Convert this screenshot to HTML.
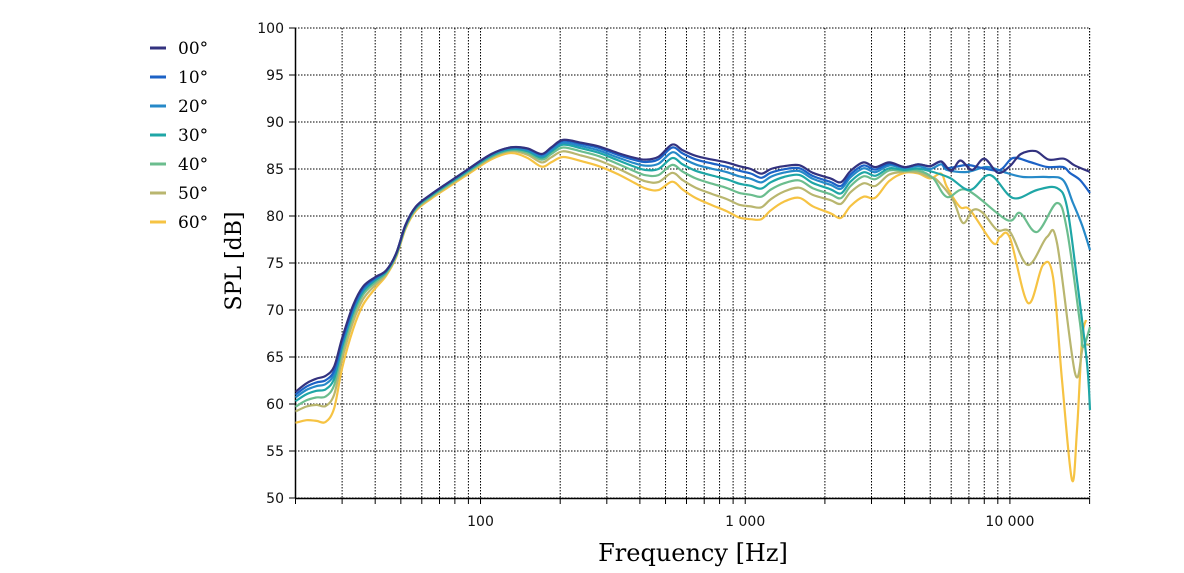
<!DOCTYPE html>
<html><head><meta charset="utf-8"><style>
html,body{margin:0;padding:0;background:#fff;}
svg{display:block;}
.tk{font-family:"DejaVu Sans","Liberation Sans",sans-serif;font-size:14px;fill:#111;}
.ser{font-family:"DejaVu Serif","Liberation Serif",serif;}
.lg{font-family:"DejaVu Serif","Liberation Serif",serif;}
</style></head><body>
<svg id="s" width="1184" height="573" xmlns="http://www.w3.org/2000/svg"></svg>
<script>
const S=document.getElementById('s');
const X0=295.5,DEC=264.7,YB=498,PDB=9.4;
const fx=f=>X0+DEC*Math.log10(f/20), dy=d=>YB-PDB*(d-50);
let h='';
for(let dec=10;dec<=10000;dec*=10)for(let m=1;m<=9;m++){const f=dec*m;if(f<20||f>20000)continue;const x=fx(f);
 h+=`<line x1="${x}" y1="28" x2="${x}" y2="498" stroke="#000" stroke-width="1" stroke-dasharray="1.5,1.5"/>`;
 h+=`<line x1="${x}" y1="498" x2="${x}" y2="504" stroke="#000"/>`;}
h+=`<line x1="${fx(20000)}" y1="28" x2="${fx(20000)}" y2="498" stroke="#000" stroke-dasharray="1.5,1.5"/>`;
for(let d=50;d<=100;d+=5){const y=dy(d);
 h+=`<line x1="295" y1="${y}" x2="1089" y2="${y}" stroke="#000" stroke-dasharray="1.5,1.5"/>`;
 h+=`<line x1="289" y1="${y}" x2="295" y2="${y}" stroke="#000"/>`;
 h+=`<text class="tk" x="284" y="${y+5}" text-anchor="end">${d}</text>`;}
h+=`<line x1="295.5" y1="28" x2="295.5" y2="498.5" stroke="#000" stroke-width="1.5"/>`;
h+=`<line x1="295" y1="498.5" x2="1089" y2="498.5" stroke="#000" stroke-width="1.5"/>`;
[[100,'100'],[1000,'1 000'],[10000,'10 000']].forEach(([f,t])=>h+=`<text class="tk" x="${fx(f)}" y="526" text-anchor="middle">${t}</text>`);
h+=`<text class="ser" x="693" y="561" font-size="24" text-anchor="middle">Frequency [Hz]</text>`;
h+=`<text class="ser" transform="translate(241,261) rotate(-90)" font-size="22" text-anchor="middle">SPL [dB]</text>`;
const cols=['#33327f','#1c62c6','#2689c8','#1fa6a6','#6bbd8e','#b9b66f','#f6c343'];
cols.forEach((c,i)=>{const y=48+i*29;h+=`<line x1="150" y1="${y}" x2="166" y2="${y}" stroke="${c}" stroke-width="3"/>`;
 h+=`<text class="lg" x="178" y="${y+6}" font-size="17">${i}0°</text>`;});
const base=[[20,61.3],[22,62.2],[24,62.7],[26,63],[28,64],[30,67],[33,70.5],[36,72.5],[40,73.5],[44,74.2],[48,76],[52,79],[57,81],[65,82.3],[75,83.5],[90,85],[110,86.6],[130,87.3],[150,87.2],[170,86.6],[185,87.3],[205,88.1],[240,87.8],[280,87.4],[330,86.7],[380,86.2],[420,86],[470,86.3],[530,87.6],[580,87],[650,86.4],[750,86],[850,85.7],[950,85.3],[1050,85],[1150,84.5],[1250,85],[1400,85.3],[1600,85.4],[1800,84.6],[2100,84],[2300,83.6],[2500,84.8],[2800,85.7],[3100,85.2],[3500,85.7],[4000,85.2],[4500,85.5],[5000,85.3],[5500,85.8],[6000,84.8],[6500,85.9],[7200,84.9],[8000,86.1],[9000,84.6],[10000,85.3],[11000,86.6],[12500,86.9],[14000,86],[16000,86.1],[17500,85.4],[20000,84.7]];
const af=[20,24,27,30,45,130,200,350,500,1000,1500,2300,3000,4000,5000];
const off=[[0,0,0,0,0,0,0,0,0,0,0,0,0,0,0],
[-.3,-.4,-.5,-.3,0,0,-.1,-.2,-.3,-.5,-.3,-.4,-.3,0,0],
[-.6,-.8,-.9,-.6,0,-.1,-.3,-.5,-.8,-1.1,-.6,-.7,-.6,-.1,-.3],
[-1,-1.3,-1.5,-.9,-.1,-.2,-.5,-.8,-1.4,-1.9,-1,-1.2,-1,-.3,-.6],
[-1.6,-2,-2.3,-1.4,-.2,-.3,-.8,-1.2,-2.1,-2.9,-1.6,-1.7,-1.4,-.4,-.9],
[-2.1,-2.8,-3.4,-2.2,-.3,-.4,-1.2,-1.7,-2.9,-4.2,-2.4,-2.3,-2.2,-.5,-1.2],
[-3.3,-4.5,-5.1,-3.2,-.4,-.6,-1.8,-2.3,-3.8,-5.6,-3.4,-3.8,-3.6,-.6,-1.3]];
const high=[null,
[[947,168],[967,165],[982,168],[1000,170],[1013,158],[1030,162],[1047,167],[1063,167],[1070,173],[1080,180],[1090,193]],
[[947,170],[967,172],[987,167],[1007,173],[1023,177],[1047,177],[1063,180],[1073,203],[1082,225],[1090,250]],
[[933,172],[950,178],[970,190],[990,175],[1013,198],[1037,190],[1057,188],[1067,207],[1077,280],[1087,363],[1090,410]],
[[933,178],[947,197],[967,190],[1007,220],[1020,213],[1037,232],[1057,203],[1067,230],[1080,323],[1083,347],[1090,327]],
[[937,180],[953,200],[963,223],[973,210],[983,213],[997,230],[1010,232],[1028,265],[1047,237],[1057,243],[1075,373],[1083,347],[1090,345]],
[[947,187],[960,207],[970,210],[993,243],[1000,237],[1010,238],[1028,303],[1043,265],[1053,277],[1062,380],[1072,480],[1077,430],[1082,340],[1086,320]]];
function offAt(o,f){if(f<=af[0])return o[0];for(let i=1;i<af.length;i++)if(f<=af[i]){const t=(Math.log(f)-Math.log(af[i-1]))/(Math.log(af[i])-Math.log(af[i-1]));return o[i-1]+t*(o[i]-o[i-1]);}return o[o.length-1];}
function path(p){let d=`M${p[0][0].toFixed(1)},${p[0][1].toFixed(1)}`;for(let i=0;i<p.length-1;i++){const a=p[i-1]||p[i],b=p[i],c=p[i+1],e=p[i+2]||c;
d+=` C${(b[0]+(c[0]-a[0])/6).toFixed(1)},${(b[1]+(c[1]-a[1])/6).toFixed(1)} ${(c[0]-(e[0]-b[0])/6).toFixed(1)},${(c[1]-(e[1]-b[1])/6).toFixed(1)} ${c[0].toFixed(1)},${c[1].toFixed(1)}`;}return d;}
for(let k=6;k>=0;k--){let pts=[];const hx=high[k]?high[k][0][0]:1e9;
 base.forEach(([f,d])=>{const x=fx(f);if(x<hx-4)pts.push([x,dy(d+offAt(off[k],f))]);});
 if(high[k])pts=pts.concat(high[k]);
 h+=`<path d="${path(pts)}" fill="none" stroke="${cols[k]}" stroke-width="2.2" stroke-linejoin="round"/>`;}
S.innerHTML=h;
</script>
</body></html>
